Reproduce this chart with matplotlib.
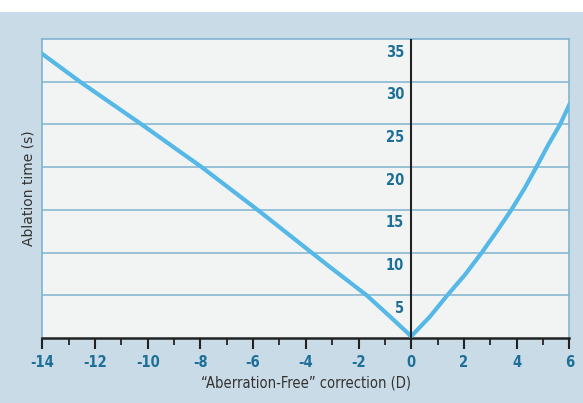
import matplotlib
matplotlib.use("Agg")
import matplotlib.pyplot as plt
from matplotlib.patches import Rectangle
from matplotlib.ticker import MultipleLocator

plt.rcParams['font.family'] = ['DejaVu Sans']

# correction (D) and ablation time (s)
corr_myopic = [-14, -12.57, -10.23, -7.95, -5.83, -3.78, -3.08, -1.69, -0.8, 0]
time_myopic = [33.25, 30, 25, 20, 15, 10, 8.3, 5, 2.5, 0.2]
corr_hyper = [0, 0.71, 1.37, 2.04, 2.68, 3.24, 3.80, 4.29, 4.75, 5.2, 5.65, 6]
time_hyper = [0.2, 2.5, 5, 7.4, 10, 12.45, 15, 17.45, 20, 22.6, 25, 27.3]

x_ticks = [-14, -12, -10, -8, -6, -4, -2, 0, 2, 4, 6]
y_ticks = [5, 10, 15, 20, 25, 30, 35]

bg = '#c9dbe6'
panel = '#f2f4f4'
grid_c = '#80b4cf'
curve_c = '#55b8e6'
tick_c = '#1d6f97'

fig = plt.figure(figsize=(5.83, 4.03), dpi=100, facecolor='white')
fig.patches.append(Rectangle((0, 0), 1, (403 - 12) / 403, transform=fig.transFigure,
                             facecolor=bg, edgecolor='none', zorder=-1))

ax = fig.add_axes([42.3 / 583, 65 / 403, 527 / 583, 299 / 403])
ax.set_facecolor(panel)
ax.set_xlim(-14, 6)
ax.set_ylim(0, 35)

# gridlines
for v in y_ticks[:-1]:
    ax.axhline(v, color=grid_c, lw=1.1, zorder=1)

ax.plot(corr_myopic, time_myopic, color=curve_c, lw=3, solid_joinstyle='round', zorder=3)
ax.plot(corr_hyper, time_hyper, color=curve_c, lw=3, solid_joinstyle='round', zorder=3)
ax.axvline(0, color='#222222', lw=1.5, zorder=4)

for s in ['left', 'right', 'top']:
    ax.spines[s].set_color(grid_c)
    ax.spines[s].set_linewidth(1.2)
ax.spines['bottom'].set_color('#222222')
ax.spines['bottom'].set_linewidth(1.8)

ax.set_xticks(x_ticks)
ax.set_xticklabels([str(t) for t in x_ticks], color=tick_c, fontsize=10.5,
                   fontstretch='condensed', fontweight='bold')
ax.xaxis.set_minor_locator(MultipleLocator(1))
ax.tick_params(axis='x', which='major', length=8, width=1.5, color='#222222', pad=4)
ax.tick_params(axis='x', which='minor', length=5, width=1.3, color='#222222')
ax.set_yticks([])

# y labels sit inside, left of the zero line, just below each gridline
for v in y_ticks:
    ax.annotate(str(v), xy=(0, v), xytext=(-5, -4), textcoords='offset points',
                ha='right', va='top', color=tick_c, fontsize=10.5,
                fontstretch='condensed', fontweight='bold', zorder=5)

ax.set_xlabel('\u201cAberration-Free\u201d correction (D)', color='#333333', fontsize=10.5,
              fontstretch='condensed', labelpad=4)
ax.set_ylabel('Ablation time (s)', color='#333333', fontsize=10, labelpad=5)

fig.savefig('out.png', dpi=100, facecolor=fig.get_facecolor())
